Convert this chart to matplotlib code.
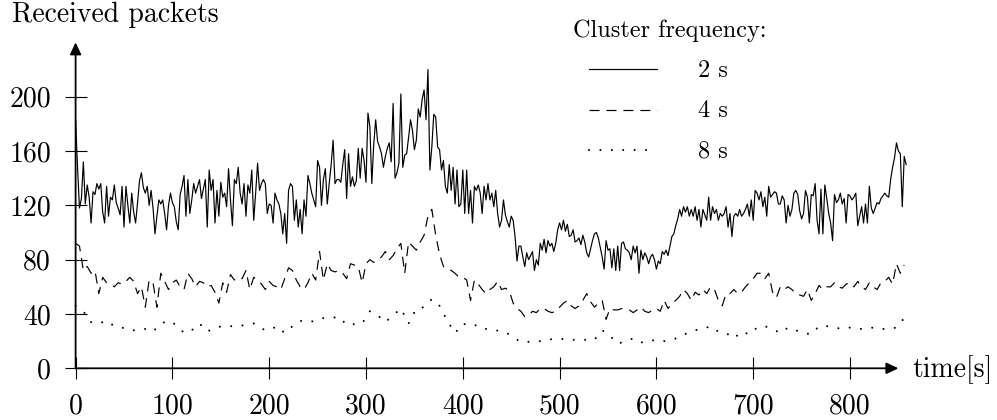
import numpy as np
import matplotlib
matplotlib.use("Agg")
import matplotlib.pyplot as plt
from matplotlib.lines import Line2D

plt.rcParams['font.family'] = 'cmr10'
plt.rcParams['mathtext.fontset'] = 'cm'
plt.rcParams['axes.formatter.use_mathtext'] = True
plt.rcParams['lines.scale_dashes'] = False

# ---------------- data ----------------
step_2s = 2
step_4s = 4
step_8s = 8

packets_2s = [
    183, 148, 118, 125, 152, 121, 135, 126, 107, 130,
    128, 136, 132, 136, 115, 107, 134, 112, 126, 124,
    135, 122, 118, 113, 134, 104, 134, 120, 107, 129,
    115, 107, 122, 138, 144, 133, 129, 134, 120, 131,
    118, 99, 112, 124, 121, 124, 114, 102, 120, 129,
    122, 119, 108, 102, 128, 134, 142, 112, 139, 114,
    124, 136, 129, 134, 139, 125, 132, 139, 104, 146,
    131, 139, 107, 131, 112, 137, 126, 129, 119, 147,
    124, 105, 139, 136, 148, 129, 121, 136, 112, 135,
    129, 146, 109, 129, 151, 131, 136, 139, 136, 114,
    121, 120, 107, 129, 124, 121, 114, 99, 114, 92,
    131, 136, 134, 109, 124, 104, 117, 99, 124, 112,
    142, 136, 129, 124, 119, 153, 148, 120, 139, 147,
    121, 136, 150, 168, 136, 139, 139, 137, 150, 161,
    125, 158, 134, 141, 134, 138, 162, 140, 162, 153,
    137, 188, 178, 136, 165, 183, 167, 163, 158, 148,
    156, 162, 166, 152, 195, 140, 144, 151, 202, 148,
    157, 158, 170, 183, 175, 161, 168, 191, 185, 198,
    205, 183, 220, 146, 163, 187, 185, 163, 161, 146,
    153, 134, 129, 150, 131, 148, 121, 146, 119, 121,
    146, 114, 146, 114, 131, 107, 134, 131, 135, 129,
    114, 134, 124, 136, 124, 129, 119, 131, 114, 104,
    109, 124, 113, 108, 104, 112, 109, 97, 79, 90,
    90, 82, 75, 85, 80, 83, 86, 72, 80, 76,
    92, 87, 95, 85, 94, 90, 92, 86, 92, 102,
    107, 102, 109, 101, 106, 97, 98, 102, 93, 94,
    96, 91, 98, 93, 85, 82, 88, 94, 99, 100,
    96, 89, 82, 73, 94, 87, 88, 74, 88, 72,
    90, 72, 92, 93, 88, 87, 85, 80, 90, 85,
    90, 70, 87, 80, 85, 82, 77, 82, 84, 80,
    73, 79, 77, 86, 84, 87, 83, 90, 97, 99,
    105, 110, 117, 112, 119, 115, 119, 112, 117, 112,
    119, 109, 117, 104, 117, 113, 109, 126, 109, 119,
    114, 117, 109, 114, 112, 114, 119, 104, 114, 97,
    112, 114, 112, 117, 112, 114, 117, 121, 112, 124,
    109, 131, 129, 124, 130, 119, 126, 112, 134, 126,
    128, 130, 129, 121, 121, 127, 124, 107, 120, 112,
    117, 129, 131, 128, 116, 110, 114, 131, 126, 107,
    128, 127, 136, 109, 99, 132, 99, 135, 125, 114,
    107, 94, 128, 122, 124, 129, 121, 125, 107, 128,
    127, 124, 126, 129, 105, 112, 119, 107, 121, 107,
    134, 118, 114, 118, 122, 121, 125, 127, 129, 127,
    126, 139, 148, 155, 166, 160, 158, 119, 156, 150,
]

packets_4s = [
    92, 90, 72, 75, 70, 72, 55, 67, 63, 62,
    60, 63, 62, 64, 67, 64, 55, 60, 45, 65,
    63, 45, 70, 64, 58, 63, 65, 60, 58, 70,
    66, 60, 64, 63, 60, 61, 56, 48, 63, 56,
    69, 65, 67, 66, 72, 58, 67, 65, 62, 58,
    64, 61, 60, 58, 66, 74, 72, 65, 60, 58,
    63, 70, 65, 86, 65, 77, 72, 71, 72, 70,
    66, 77, 76, 75, 63, 77, 80, 78, 80, 82,
    86, 80, 83, 88, 92, 70, 93, 90, 87, 93,
    98, 112, 117, 98, 84, 75, 74, 72, 70, 67,
    67, 65, 50, 65, 62, 58, 55, 58, 60, 64,
    58, 59, 57, 48, 44, 42, 38, 39, 42, 41,
    44, 44, 42, 41, 42, 45, 48, 50, 46, 44,
    46, 50, 55, 49, 45, 48, 50, 36, 44, 43,
    43, 44, 43, 43, 41, 43, 45, 42, 41, 43,
    44, 42, 50, 44, 48, 50, 53, 58, 55, 50,
    56, 54, 58, 55, 60, 58, 50, 46, 55, 55,
    58, 55, 56, 60, 63, 66, 70, 70, 66, 70,
    56, 52, 60, 58, 60, 58, 55, 54, 53, 58,
    50, 55, 61, 58, 60, 60, 63, 60, 59, 62,
    63, 60, 64, 60, 58, 63, 60, 58, 63, 64,
    67, 62, 77, 70, 76,
]

packets_8s = [
    46, 42, 34, 33, 35, 31, 30, 28, 28, 29,
    27, 33, 35, 32, 26, 28, 33, 27,
    30, 31, 31, 31, 32, 33, 29, 28, 31, 26,
    31, 35, 34, 35, 37, 37, 38, 32,
    32.5, 33, 42, 39, 34, 39, 44, 33, 44, 45,
    51, 46, 35, 26, 33, 31, 32, 29,
    28, 27.5, 25, 21, 19, 20, 20, 21, 22, 21.5,
    21, 21, 21, 21, 28, 24, 18, 20,
    22, 19, 20, 21, 20, 21, 23, 26, 28, 29,
    31, 27, 26, 22, 27, 25, 30, 31,
    29, 26, 30, 28, 26, 25, 31, 31, 30, 29,
    30, 29, 29, 30, 29, 29, 30, 37,
]

x_ticks = [0, 100, 200, 300, 400, 500, 600, 700, 800]
y_ticks = [0, 40, 80, 120, 160, 200]
legend_title = "Cluster frequency:"
series_labels = ["2 s", "4 s", "8 s"]

t2 = np.arange(len(packets_2s)) * step_2s
t4 = np.arange(len(packets_4s)) * step_4s
t8 = np.arange(len(packets_8s)) * step_8s

# ---------------- figure ----------------
W, H = 997, 420
fig = plt.figure(figsize=(W / 100, H / 100), dpi=100)

x_px0, x_scale = 75.6, 0.968   # px of t=0, px per second
y_px0, y_scale = 368.3, 1.358  # px (from top) of 0, px per packet
xmax, ymax = 858, 240
ax = fig.add_axes([x_px0 / W, (H - y_px0) / H,
                   xmax * x_scale / W, ymax * y_scale / H])
ax.set_xlim(0, xmax)
ax.set_ylim(0, ymax)
for s in ax.spines.values():
    s.set_visible(False)

lw = 0.85
dash = (0, (7.2, 5.0))
dots = (0, (0.01, 8.2))
ax.plot(t2, packets_2s, color='black', lw=lw, clip_on=False)
ax.plot(t4, packets_4s, color='black', lw=lw, ls=dash, clip_on=False)
ax.plot(t8, packets_8s, color='black', lw=1.5, ls=dots,
        dash_capstyle='round', clip_on=False)

# axis arrows
arrow = dict(arrowstyle='-|>,head_length=0.36,head_width=0.17', lw=1.3,
             color='black', mutation_scale=20, shrinkA=0, shrinkB=0)
ax.annotate('', xy=(850, 0), xytext=(0, 0), arrowprops=arrow,
            annotation_clip=False)
ax.annotate('', xy=(0, 240), xytext=(0, 0), arrowprops=arrow,
            annotation_clip=False)

ax.set_xticks(x_ticks)
ax.set_yticks(y_ticks)
ax.set_xticklabels([str(v) for v in x_ticks])
ax.set_yticklabels([str(v) for v in y_ticks])
ax.tick_params(direction='inout', length=15.8, width=0.8, pad=9.9,
               labelsize=20, colors='black')

fig.text(11.7 / W, 1 - 21.7 / H, 'Received packets', fontsize=20,
         va='baseline', ha='left')
fig.text(912 / W, 1 - 370 / H, 'time[s]', fontsize=20, va='center', ha='left')

# legend (manual, as in the reference)
fig.text(573 / W, 1 - 36.7 / H, legend_title, fontsize=17.5,
         va='baseline', ha='left')
styles = [dict(ls='-', lw=lw),
          dict(ls=dash, lw=lw),
          dict(ls=dots, lw=1.5, dash_capstyle='round')]
line_y = [69.3, 110, 150]
for lab, st, yy in zip(series_labels, styles, line_y):
    fig.add_artist(Line2D([589 / W, 657 / W], [1 - yy / H] * 2,
                          transform=fig.transFigure, color='black', **st))
    fig.text(698 / W, 1 - (yy + 7.4) / H, lab, fontsize=17.5,
             va='baseline', ha='left')

fig.savefig('out.png', dpi=100)
